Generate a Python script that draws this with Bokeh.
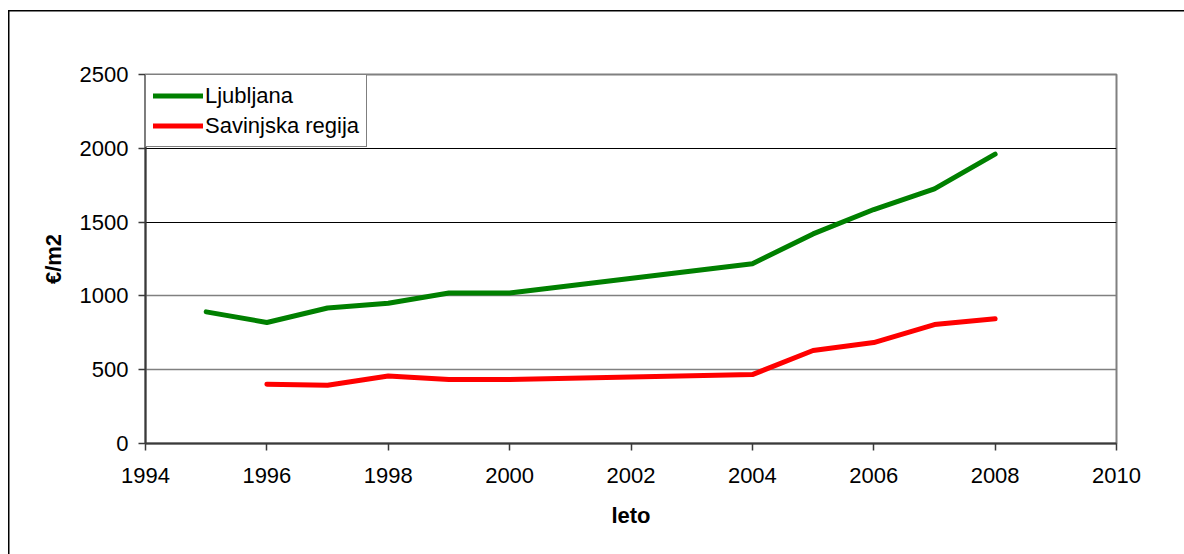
from bokeh.plotting import figure
from bokeh.models import FixedTicker, Grid, Legend, LegendItem
from bokeh.embed import file_html
from bokeh.resources import INLINE

# Average price per square metre by year
years_lj = [1995, 1996, 1997, 1998, 1999, 2000, 2004, 2005, 2006, 2007, 2008]
price_lj = [892, 820, 918, 950, 1020, 1020, 1218, 1420, 1585, 1725, 1960]

years_sav = [1996, 1997, 1998, 1999, 2000, 2004, 2005, 2006, 2007, 2008]
price_sav = [402, 394, 457, 433, 433, 467, 630, 684, 806, 845]

x_ticks = [1994, 1996, 1998, 2000, 2002, 2004, 2006, 2008, 2010]
y_ticks = [0, 500, 1000, 1500, 2000, 2500]

FONT = "Liberation Sans"

p = figure(width=1184, height=554, output_backend="svg", toolbar_location=None,
           x_range=(1994, 2010), y_range=(0, 2500),
           min_border_left=145, min_border_right=68,
           min_border_top=74, min_border_bottom=111)

# transparent canvas border so the outer chart frame (drawn as CSS
# background on the host element) shows through
p.background_fill_color = "white"
p.border_fill_color = None
p.styles = {
    "background-color": "white",
    "background-image": "linear-gradient(#000, #000), linear-gradient(#000, #000)",
    "background-repeat": "no-repeat",
    "background-position": "8px 10px, 8px 10px",
    "background-size": "1.5px 700px, 1400px 1.5px",
}
p.outline_line_color = "#808080"
p.outline_line_width = 2

# axes
for ax in (p.xaxis[0], p.yaxis[0]):
    ax.axis_line_color = "#3a3a3a"
    ax.axis_line_width = 2
    ax.major_tick_line_color = "#3a3a3a"
    ax.major_tick_line_width = 1.5
    ax.major_tick_in = 0
    ax.major_tick_out = 7
    ax.minor_tick_line_color = None
    ax.major_label_text_font = FONT
    ax.major_label_text_font_size = "22px"
    ax.major_label_text_color = "black"
    ax.axis_label_text_font = FONT
    ax.axis_label_text_font_size = "22px"
    ax.axis_label_text_font_style = "bold"
    ax.axis_label_text_color = "black"

p.xaxis.ticker = FixedTicker(ticks=x_ticks)
p.yaxis.ticker = FixedTicker(ticks=y_ticks)
p.xaxis.axis_label = "leto"
p.yaxis.axis_label = "€/m2"
p.xaxis.major_label_standoff = 17
p.yaxis.major_label_standoff = 10
p.xaxis.axis_label_standoff = 17
p.yaxis.axis_label_standoff = 11

# horizontal grid lines
p.xgrid.grid_line_color = None
p.ygrid.ticker = FixedTicker(ticks=[1500, 2000])
p.ygrid.grid_line_color = "black"
p.ygrid.grid_line_width = 1
p.add_layout(Grid(dimension=1, ticker=FixedTicker(ticks=[500, 1000]),
                  grid_line_color="#808080", grid_line_width=1.5))

r_lj = p.line(years_lj, price_lj, line_color="#008000", line_width=5,
              line_cap="round", line_join="round")
r_sav = p.line(years_sav, price_sav, line_color="#ff0000", line_width=5,
               line_cap="round", line_join="round")

legend = Legend(items=[LegendItem(label="Ljubljana", renderers=[r_lj]),
                       LegendItem(label="Savinjska regija", renderers=[r_sav])],
                location="top_left", margin=0, padding=7, spacing=3,
                label_height=27, glyph_height=27, glyph_width=50,
                label_standoff=2, label_text_font=FONT,
                label_text_font_size="22px", label_text_color="black",
                border_line_color="black", border_line_width=1,
                background_fill_color="white", background_fill_alpha=1)
p.add_layout(legend)

open("out.html", "w").write(file_html(p, INLINE))
